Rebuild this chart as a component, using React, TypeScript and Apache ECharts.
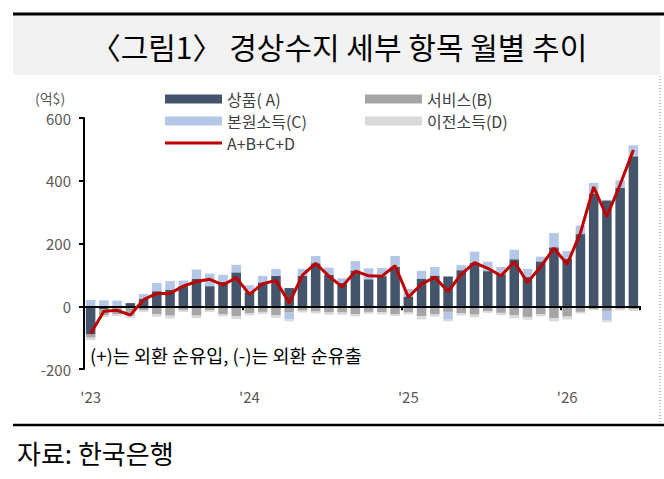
import React, { useEffect, useRef } from "react";
import * as echarts from "echarts";

const categories = [
  "23.01", "23.02", "23.03", "23.04", "23.05", "23.06", "23.07", "23.08", "23.09", "23.10", "23.11", "23.12",
  "24.01", "24.02", "24.03", "24.04", "24.05", "24.06", "24.07", "24.08", "24.09", "24.10", "24.11", "24.12",
  "25.01", "25.02", "25.03", "25.04", "25.05", "25.06", "25.07", "25.08", "25.09", "25.10", "25.11", "25.12",
  "26.01", "26.02", "26.03", "26.04", "26.05", "26.06",
];
const yearLabels = ["'23", "'24", "'25", "'26"];

// 상품(A)
const goodsA = [
  -90, -10, -7, 10, 23, 48, 53, 64, 88, 64, 78, 108,
  45, 76, 97, 58, 97, 137, 100, 75, 114, 86, 96, 126,
  31, 88, 98, 95, 115, 138, 112, 102, 150, 93, 143, 188,
  152, 230, 358, 337, 377, 478,
];
// 서비스(B)
const servicesB = [
  -10, -18, -18, -18, -13, -25, -30, -13, -30, -12, -25, -32,
  -22, -18, -28, -20, -14, -17, -20, -20, -25, -18, -19, -25,
  -20, -32, -25, -18, -22, -27, -16, -21, -29, -34, -25, -38,
  -33, -18, -9, -15, -8, -10,
];
// 본원소득(C)
const primaryC = [
  20, 19, 18, -14, 16, 26, 27, 18, 29, 40, 22, 24,
  22, 21, 22, -22, 22, 23, 23, 14, 30, 35, 26, 34,
  24, 25, 27, -25, 16, 36, 30, 23, 30, 26, 15, 45,
  24, 27, 35, -30, 24, 35,
];
// 이전소득(D)
const secondaryD = [
  -8, -7, -6, -6, -5, -8, -9, -5, -8, -6, -7, -9,
  -7, -7, -9, -6, -6, -6, -7, -7, -7, -6, -7, -6,
  -6, -10, -8, -5, -7, -8, -5, -7, -9, -9, -7, -10,
  -9, -5, -4, -6, -5, -5,
];
// A+B+C+D
const totalLine = [
  -88, -16, -13, -28, 21, 41, 41, 64, 79, 86, 68, 91,
  38, 72, 82, 10, 99, 137, 96, 62, 112, 97, 96, 129,
  29, 71, 92, 47, 102, 139, 121, 97, 142, 76, 126, 185,
  134, 234, 380, 286, 388, 498,
];

const seriesNames = ["상품( A)", "서비스(B)", "본원소득(C)", "이전소득(D)", "A+B+C+D"];
const seriesColors = ["#44546a", "#a5a5a5", "#b4c7e7", "#d9d9d9", "#c00000"];

const FONT = '"Noto Sans CJK KR", "Noto Sans", sans-serif';

export default function App() {
  const ref = useRef<HTMLDivElement>(null);

  useEffect(() => {
    if (!ref.current) return;
    const chart = echarts.init(ref.current, null, { renderer: "svg" });

    const barData = [goodsA, servicesB, primaryC, secondaryD];
    const legendBase = {
      orient: "horizontal",
      padding: 0,
      itemWidth: 57,
      itemHeight: 9,
      icon: "rect",
      textStyle: { color: "#404040", fontSize: 16, fontFamily: FONT },
      selectedMode: false,
    };
    const legendPos = [
      { left: 165, top: 91 },
      { left: 365, top: 91 },
      { left: 165, top: 113 },
      { left: 365, top: 113 },
      { left: 165, top: 135 },
    ];

    const option: any = {
      animation: false,
      textStyle: { fontFamily: FONT },
      legend: seriesNames.map((n, i) => ({
        ...legendBase,
        ...legendPos[i],
        itemHeight: i === 4 ? 3 : 9,
        data: [{ name: n, icon: "rect" }],
      })),
      grid: { left: 84, top: 118, width: 556, height: 251, containLabel: false },
      xAxis: [
        {
          type: "category",
          data: categories,
          boundaryGap: true,
          z: 5,
          axisLine: { show: true, onZero: true, lineStyle: { color: "#000", width: 2 } },
          axisTick: {
            show: true,
            length: 4,
            interval: (i: number) => i % 12 === 0,
            lineStyle: { color: "#000", width: 2 },
          },
          axisLabel: { show: false },
          splitLine: { show: false },
        },
        {
          type: "category",
          data: categories,
          position: "bottom",
          boundaryGap: true,
          axisLine: { show: false, onZero: false },
          axisTick: { show: false },
          axisLabel: {
            show: true,
            interval: (i: number) => i % 12 === 0,
            formatter: (_v: string, i: number) => yearLabels[Math.floor(i / 12)] || "",
            color: "#595959",
            fontSize: 15,
            fontFamily: FONT,
            margin: 20,
          },
          splitLine: { show: false },
        },
      ],
      yAxis: {
        type: "value",
        min: -200,
        max: 600,
        interval: 200,
        axisLine: { show: true, lineStyle: { color: "#000", width: 2 } },
        axisTick: { show: true, length: 5, lineStyle: { color: "#000", width: 2 } },
        axisLabel: { color: "#595959", fontSize: 15, fontFamily: FONT, margin: 13 },
        splitLine: { show: false },
      },
      series: [
        ...barData.map((d, i) => ({
          name: seriesNames[i],
          type: "bar",
          stack: "total",
          xAxisIndex: 0,
          data: d,
          barCategoryGap: "28%",
          itemStyle: { color: seriesColors[i] },
          z: 2,
        })),
        {
          name: seriesNames[4],
          type: "line",
          xAxisIndex: 0,
          data: totalLine,
          symbol: "none",
          lineStyle: { color: seriesColors[4], width: 3 },
          itemStyle: { color: seriesColors[4] },
          z: 10,
        },
      ],
      graphic: [
        { type: "rect", shape: { x: 13, y: 15, width: 647, height: 60 }, style: { fill: "#f2f2f2" }, z: 0 },
        { type: "line", shape: { x1: 13, y1: 14, x2: 664, y2: 14 }, style: { stroke: "#000", lineWidth: 3 } },
        {
          type: "text",
          x: 339,
          y: 46,
          style: {
            text: "〈그림1〉 경상수지 세부 항목 월별 추이",
            fill: "#000",
            fontSize: 30,
            fontFamily: FONT,
            textAlign: "center",
            textVerticalAlign: "middle",
          },
        },
        {
          type: "line",
          shape: { x1: 660, y1: 76, x2: 660, y2: 424 },
          style: { stroke: "#888", lineWidth: 1, lineDash: [1, 2] },
        },
        { type: "line", shape: { x1: 13, y1: 425, x2: 664, y2: 425 }, style: { stroke: "#000", lineWidth: 2.5 } },
        {
          type: "text",
          x: 35,
          y: 98,
          style: { text: "(억$)", fill: "#595959", fontSize: 14, fontFamily: FONT, textAlign: "left", textVerticalAlign: "middle" },
        },
        {
          type: "text",
          x: 90,
          y: 355,
          style: {
            text: "(+)는 외환 순유입, (-)는 외환 순유출",
            fill: "#000",
            fontSize: 18.5,
            fontFamily: FONT,
            textAlign: "left",
            textVerticalAlign: "middle",
          },
        },
        {
          type: "text",
          x: 17,
          y: 452,
          style: { text: "자료: 한국은행", fill: "#000", fontSize: 26, fontFamily: FONT, textAlign: "left", textVerticalAlign: "middle" },
        },
      ],
    };

    chart.setOption(option);
    return () => chart.dispose();
  }, []);

  return (
    <div
      ref={ref}
      style={{ position: "absolute", left: 0, top: 0, width: 664, height: 479, background: "#fff" }}
    />
  );
}
